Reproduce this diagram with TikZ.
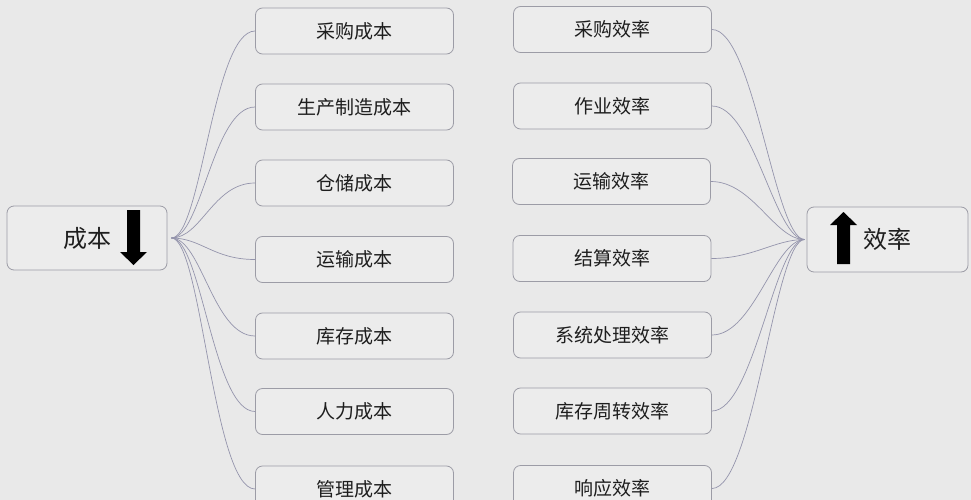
\documentclass[tikz,border=0pt]{standalone}
\usepackage{fontspec}
\setmainfont{Noto Sans CJK SC}
\definecolor{bgcol}{HTML}{E9E9E9}
\definecolor{boxcol}{HTML}{ECECEC}
\definecolor{edgecol}{HTML}{9C9CA6}
\definecolor{linkcol}{HTML}{9494AC}
\definecolor{txtcol}{HTML}{1E1E1E}

\begin{document}
\begin{tikzpicture}[x=1pt,y=-1pt,
  itembox/.style={draw=edgecol,fill=boxcol,line width=0.8pt,rounded corners=7pt,
    minimum width=198pt,minimum height=46pt,inner sep=0pt,text=txtcol,font=\fontsize{19}{19}\selectfont},
  mainbox/.style={itembox,minimum width=160pt,minimum height=64pt,font=\fontsize{24}{24}\selectfont},
  link/.style={draw=linkcol,line width=0.7pt}]
\fill[bgcol] (0,0) rectangle (971,500);
\useasboundingbox (0,0) rectangle (971,500);

\node[mainbox] (cost) at (87,238) {成本};
\node[mainbox,minimum width=161pt,minimum height=65pt] (eff) at (887.5,239.5) {效率};
\fill[black] (127,210) -- (140,210) -- (140,252) -- (147,252) -- (133.5,265) -- (120,252) -- (127,252) -- cycle;
\fill[black] (837,264) -- (850,264) -- (850,225) -- (857,225) -- (843.5,212) -- (830,225) -- (837,225) -- cycle;
\coordinate (costhub) at ([xshift=4pt]cost.east);
\coordinate (effhub) at ([xshift=-2pt]eff.west);

\node[itembox] (c1) at (354.5,31) {采购成本};
\node[itembox] (c2) at (354.5,107) {生产制造成本};
\node[itembox] (c3) at (354.5,183) {仓储成本};
\node[itembox] (c4) at (354.5,259.5) {运输成本};
\node[itembox] (c5) at (354.5,336) {库存成本};
\node[itembox] (c6) at (354.5,411.5) {人力成本};
\node[itembox] (c7) at (354.5,489) {管理成本};

\node[itembox] (e1) at (612.5,29.5) {采购效率};
\node[itembox] (e2) at (612.5,106) {作业效率};
\node[itembox] (e3) at (611.5,181.5) {运输效率};
\node[itembox] (e4) at (612,258.5) {结算效率};
\node[itembox] (e5) at (612.5,335) {系统处理效率};
\node[itembox] (e6) at (612.5,411) {库存周转效率};
\node[itembox] (e7) at (612.5,488.5) {响应效率};

\draw[link] (costhub) .. controls +(30,0) and +(-42,0) .. (c1.west);
\draw[link] (costhub) .. controls +(30,0) and +(-42,0) .. (c2.west);
\draw[link] (costhub) .. controls +(30,0) and +(-42,0) .. (c3.west);
\draw[link] (costhub) .. controls +(30,0) and +(-42,0) .. (c4.west);
\draw[link] (costhub) .. controls +(30,0) and +(-42,0) .. (c5.west);
\draw[link] (costhub) .. controls +(30,0) and +(-42,0) .. (c6.west);
\draw[link] (costhub) .. controls +(30,0) and +(-42,0) .. (c7.west);

\draw[link] (e1.east) .. controls +(42,0) and +(-30,0) .. (effhub);
\draw[link] (e2.east) .. controls +(42,0) and +(-30,0) .. (effhub);
\draw[link] (e3.east) .. controls +(42,0) and +(-30,0) .. (effhub);
\draw[link] (e4.east) .. controls +(42,0) and +(-30,0) .. (effhub);
\draw[link] (e5.east) .. controls +(42,0) and +(-30,0) .. (effhub);
\draw[link] (e6.east) .. controls +(42,0) and +(-30,0) .. (effhub);
\draw[link] (e7.east) .. controls +(42,0) and +(-30,0) .. (effhub);
\end{tikzpicture}
\end{document}
